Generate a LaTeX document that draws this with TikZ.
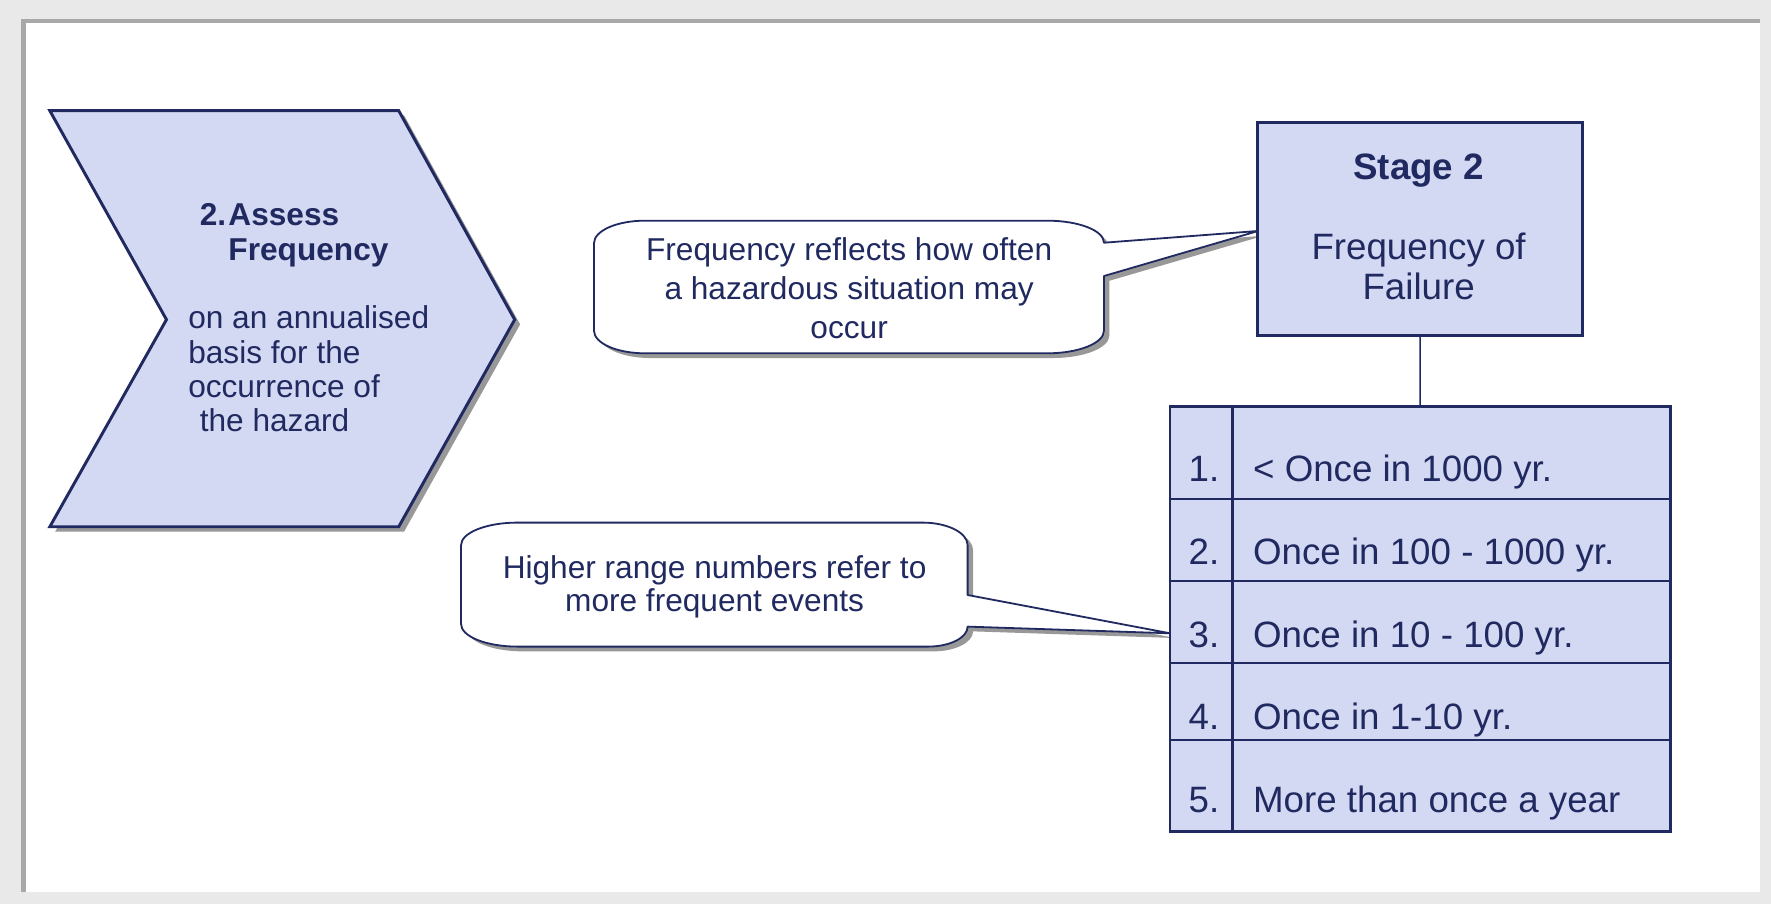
\documentclass[tikz,border=0pt]{standalone}
\usepackage{fontspec}
\setmainfont{Liberation Sans}
\definecolor{navy}{RGB}{32,42,96}
\definecolor{lav}{RGB}{212,217,243}
\definecolor{shade}{RGB}{152,152,152}
\definecolor{pagegrey}{RGB}{233,233,233}
\definecolor{rimgrey}{RGB}{168,168,168}
% stacked lines whose reference point is the first baseline
\newcommand\leftlines[2]{\vtop{\baselineskip=#1\relax\halign{##\hfil\cr#2\crcr}}}
\newcommand\centerlines[2]{\vtop{\baselineskip=#1\relax\halign{\hfil##\hfil\cr#2\crcr}}}

\begin{document}
\begin{tikzpicture}[x=1pt,y=1pt,
  txt/.style={text=navy, inner sep=0pt, outer sep=0pt},
  body/.style={txt, font=\fontsize{28}{32}\selectfont},
  big/.style={txt, font=\fontsize{32.5}{38}\selectfont},
  panel/.style={draw=navy, fill=lav, line width=2.6pt},
  dropshade/.style={preaction={fill=shade, transform canvas={shift={(4.8pt,-4.2pt)}}}},
  bubble/.style={draw=navy, fill=white, line width=1.6pt, line join=round, dropshade},
  rule/.style={draw=navy, line width=2.6pt},
  link/.style={draw=navy, line width=1.3pt}]

\useasboundingbox (0,0) rectangle (1568,800);
% page and framed sheet
\fill[pagegrey] (0,0) rectangle (1568,800);
\fill[white] (19,10.6) rectangle (1558,782.6);
\draw[rimgrey, line width=3.6pt] (20.8,10.6) -- (20.8,781) -- (1558,781);

% step chevron
\draw[panel, line join=miter, dropshade] (44.1,702) -- (353,702) -- (455.7,517)
  -- (353,333.6) -- (44.1,333.6) -- (147.4,517) -- cycle;
\node[body, font=\bfseries\fontsize{28}{31}\selectfont, anchor=base west] (head) at (176.9,600.2)
  {\leftlines{31pt}{\makebox[25.4pt][l]{2.}Assess\cr\hspace*{25.4pt}Frequency}};
\node[body, anchor=base west] (basis) at (166.7,509.1)
  {\leftlines{30.5pt}{on an annualised\cr basis for the\cr occurrence of\cr\hspace*{10.2pt}the hazard}};

% callout tips
\coordinate (tip1) at (1114,595.5);
\coordinate (tip2) at (1035.9,239.3);

% upper callout
\path[bubble] (525.9,507.2) -- (525.9,584.6)
  arc[start angle=180,end angle=90,x radius=45,y radius=20] -- (927.4,604.6)
  arc[start angle=90,end angle=0,x radius=50,y radius=19.5] -- (tip1) -- (977.4,555.6)
  -- (977.4,507.2) arc[start angle=0,end angle=-90,x radius=50,y radius=20]
  -- (570.9,487.2) arc[start angle=270,end angle=180,x radius=45,y radius=20] -- cycle;
\node[body, anchor=base] (note1) at (751.8,569.2)
  {\centerlines{34.3pt}{Frequency reflects how often\cr a hazardous situation may\cr occur}};

% lower callout
\path[bubble] (408.2,247.5) -- (408.2,317.3)
  arc[start angle=180,end angle=90,x radius=50,y radius=20] -- (816.7,337.3)
  arc[start angle=90,end angle=0,x radius=40,y radius=20] -- (856.7,273.2) -- (tip2)
  -- (856.7,245.2) arc[start angle=0,end angle=-90,x radius=35,y radius=17.7]
  -- (458.2,227.5) arc[start angle=270,end angle=180,x radius=50,y radius=20] -- cycle;
\node[body, anchor=base] (note2) at (632.7,288)
  {\centerlines{29.5pt}{Higher range numbers refer to\cr more frequent events}};

% stage box
\node[panel, minimum width=288pt, minimum height=188.5pt, anchor=north west] (stage) at (1112,693) {};
\node[big, font=\bfseries\fontsize{32.5}{38}\selectfont, anchor=base] (stagetitle) at (1256,641.2) {Stage 2};
\node[big, anchor=base] (stagesub) at (1256,570.4) {\centerlines{35.4pt}{Frequency of\cr Failure}};

% frequency table
\node[panel, minimum width=442.9pt, minimum height=376.2pt, anchor=north west] (tbl) at (1034.6,441.4) {};
\draw[rule] (1091,441.4) -- (1091,65.2);
\foreach \yy in {358.2,285.6,213,144.8}
  \draw[rule] (tbl.west |- 0,\yy) -- (tbl.east |- 0,\yy);
\draw[link] (stage.south) -- (tbl.north);

\foreach \n/\yy/\t in {1/373.6/{< Once in 1000 yr.},
                      2/299.8/{Once in 100 - 1000 yr.},
                      3/226.9/{Once in 10 - 100 yr.},
                      4/154.3/{Once in 1-10 yr.},
                      5/80.5/{More than once a year}} {
  \node[big, anchor=base east] (num\n) at (1079.5,\yy) {\n.};
  \node[big, anchor=base west] (row\n) at (1109.5,\yy) {\t};
}
\end{tikzpicture}
\end{document}
